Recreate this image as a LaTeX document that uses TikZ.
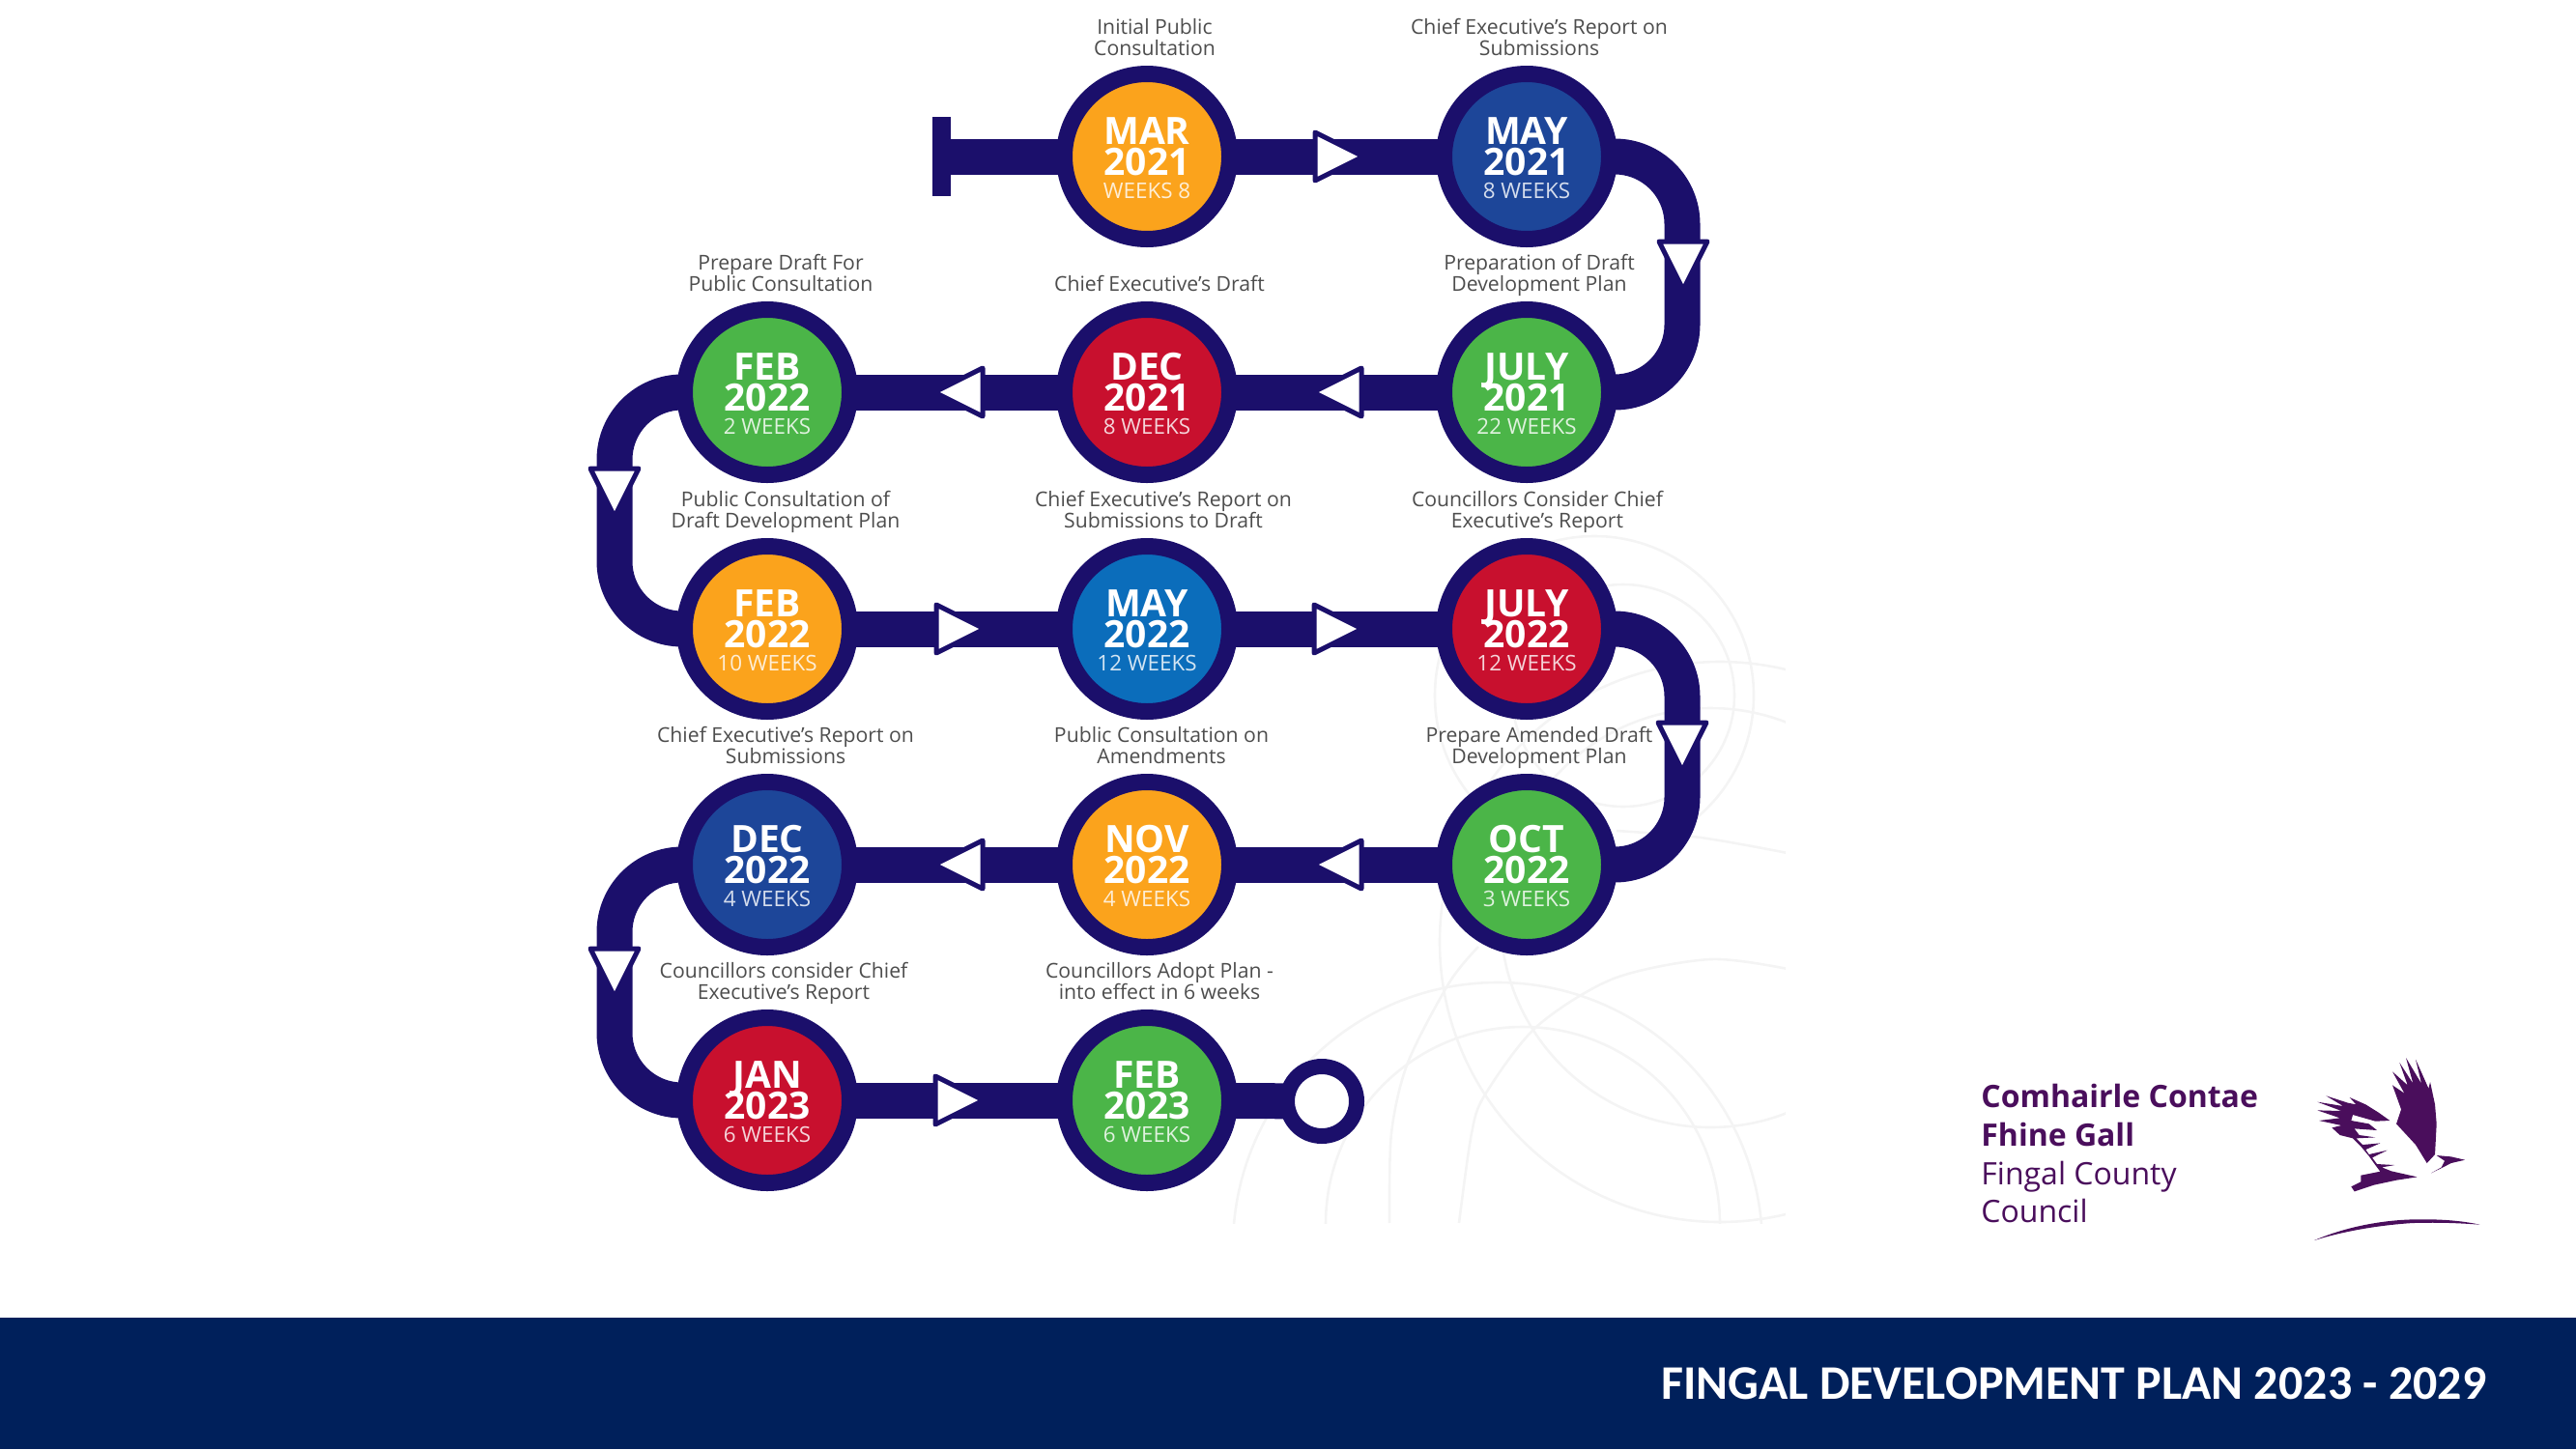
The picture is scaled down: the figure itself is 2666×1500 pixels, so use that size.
\documentclass[tikz,border=0pt]{standalone}
\usepackage{fontspec}
\setmainfont{Open Sans}
\newfontfamily\bannerfont{Carlito}
\usetikzlibrary{backgrounds}
\definecolor{pipenavy}{HTML}{1B0F6B}
\definecolor{bannernavy}{HTML}{00205B}
\definecolor{stoporange}{HTML}{FBA31C}
\definecolor{stopdarkblue}{HTML}{1D4699}
\definecolor{stopmidblue}{HTML}{0B6DBB}
\definecolor{stopred}{HTML}{C8102E}
\definecolor{stopgreen}{HTML}{4BB548}
\definecolor{logopurple}{HTML}{4A0E5C}
\definecolor{markgrey}{HTML}{F4F4F4}
\definecolor{labelgrey}{HTML}{4D4D4D}
\setlength{\lineskiplimit}{-100pt}
\newcommand{\monthfont}{\bfseries\fontsize{19.5}{16.5}\selectfont}
\newcommand{\weekfont}{\mdseries\fontsize{11.2}{13}\selectfont}
\tikzset{
  stopnode/.style={circle,draw=pipenavy,line width=8.5pt,minimum size=85.5pt,inner sep=0pt,align=center,text=white,font=\monthfont},
  stoplabel/.style={anchor=base,align=center,inner sep=0pt,text=labelgrey,font=\fontsize{10.6}{10.7}\selectfont},
  pipeline/.style={draw=pipenavy,line width=18.5pt},
  flowmark/.style={fill=white,draw=pipenavy,line width=2.5pt,line join=round},
  watermark/.style={draw=markgrey,line width=1.3pt},
  logotext/.style={anchor=base west,inner sep=0pt,text=logopurple},
}
\begin{document}
\begin{tikzpicture}[x=.5pt,y=-.5pt]
  \useasboundingbox (0,0) rectangle (2666,1500);
  \fill[bannernavy] (0,1364) rectangle (2666,1500);
  \node[anchor=base east,inner sep=0pt,text=white,font=\bannerfont\bfseries\fontsize{25}{30}\selectfont] (bannertext) at (2574,1448) {FINGAL DEVELOPMENT PLAN 2023 - 2029};
    \foreach \xpos/\ypos/\mycolor/\monthline/\yearline/\weekline/\labelx/\labeltext[count=\nn] in {%
        1187/162/stoporange/MAR/2021/WEEKS 8/1195/{Initial Public\\Consultation},
        1580/162/stopdarkblue/MAY/2021/8 WEEKS/1593/{Chief Executive’s Report on\\Submissions},
        1580/406/stopgreen/JULY/2021/22 WEEKS/1593/{Preparation of Draft\\Development Plan},
        1187/406/stopred/DEC/2021/8 WEEKS/1200/{Chief Executive’s Draft},
        794/406/stopgreen/FEB/2022/2 WEEKS/808/{Prepare Draft For\\Public Consultation},
        794/651/stoporange/FEB/2022/10 WEEKS/813/{Public Consultation of\\Draft Development Plan},
        1187/651/stopmidblue/MAY/2022/12 WEEKS/1204/{Chief Executive’s Report on\\Submissions to Draft},
        1580/651/stopred/JULY/2022/12 WEEKS/1591/{Councillors Consider Chief\\Executive’s Report},
        1580/895/stopgreen/OCT/2022/3 WEEKS/1593/{Prepare Amended Draft\\Development Plan},
        1187/895/stoporange/NOV/2022/4 WEEKS/1202/{Public Consultation on\\Amendments},
        794/895/stopdarkblue/DEC/2022/4 WEEKS/813/{Chief Executive’s Report on\\Submissions},
        794/1139/stopred/JAN/2023/6 WEEKS/811/{Councillors consider Chief\\Executive’s Report},
        1187/1139/stopgreen/FEB/2023/6 WEEKS/1200/{Councillors Adopt Plan -\\into effect in 6 weeks}%
    }{%
        \node[stopnode,fill=\mycolor] (stop-\nn) at (\xpos,\ypos) {\rule{0pt}{15.5pt}\monthline\\[-0.5pt]\yearline\\[-4.5pt]{\weekfont\textcolor{white!82!\mycolor}{\weekline}}};
        \node[stoplabel] (label-\nn) at (\labelx,\ypos-105) {\labeltext};
    }
  \node[fill=pipenavy,minimum width=9.5pt,minimum height=41pt,inner sep=0pt] (startbar) at (974.5,162) {};
  \node[circle,draw=pipenavy,fill=white,line width=8pt,minimum size=36pt,inner sep=0pt] (endring) at (1368,1140) {};
  \coordinate (turn-1) at (1741,162);
  \coordinate (turn-2) at (1741,406);
  \coordinate (turn-3) at (636,406);
  \coordinate (turn-4) at (636,651);
  \coordinate (turn-5) at (1741,651);
  \coordinate (turn-6) at (1741,895);
  \coordinate (turn-7) at (636,895);
  \coordinate (turn-8) at (636,1139);
  \begin{scope}[on background layer]
    % faint rings behind the lower right
    \begin{scope}
      \clip (1275,550) rectangle (1848,1266);
      \draw[watermark] (1550,1291) circle (274);
      \draw[watermark] (1576,1267) circle (204);
      \draw[watermark] (1770,950) circle (217);
      \draw[watermark] (1780,975) circle (290);
      \draw[watermark] (1650,720) circle (165);
      \draw[watermark] (1680,720) circle (115);
      \draw[watermark] plot[smooth] coordinates {(1438,1266) (1440,1173) (1457,1100) (1500,1017) (1530,980)};
      \draw[watermark] plot[smooth] coordinates {(1510,1266) (1523,1173) (1537,1133) (1590,1063) (1670,1013) (1770,993) (1850,1003)};
      \draw[watermark] plot[smooth] coordinates {(1673,860) (1760,867) (1850,883)};
    \end{scope}
    \draw[pipeline] (startbar.center) -- (stop-1.center);
    \foreach \fromstop/\tostop in {1/2,3/4,4/5,6/7,7/8,9/10,10/11,12/13}{%
        \draw[pipeline] (stop-\fromstop.center) -- (stop-\tostop.center);
    }
    \draw[pipeline] (stop-13.center) -- (endring.center);
    \foreach \fromstop/\firstturn/\secondturn/\tostop in {2/1/2/3,5/3/4/6,8/5/6/9,11/7/8/12}{%
        \draw[pipeline,rounded corners=35pt] (stop-\fromstop.center) -- (turn-\firstturn) -- (turn-\secondturn) -- (stop-\tostop.center);
    }
  \end{scope}
    \foreach \xpos/\ypos/\turnangle in {%
        1361/162/0,1742/250/-90,1409/406/180,1017/406/180,636/485/-90,
        969/651/0,1360/651/0,1741/748/-90,1409/895/180,1017/895/180,
        636/982/-90,968/1139/0%
    }{%
        \draw[flowmark,shift={(\xpos,\ypos)},rotate=\turnangle] (0,-25) -- (50,0) -- (0,25) -- cycle;
    }
  % logo
  \node[logotext,font=\bfseries\fontsize{16}{20}\selectfont] (logo-1) at (2050,1146) {Comhairle Contae};
  \node[logotext,font=\bfseries\fontsize{16}{20}\selectfont] (logo-2) at (2050,1186) {Fhine Gall};
  \node[logotext,font=\fontsize{16}{20}\selectfont] (logo-3) at (2050,1226) {Fingal County};
  \node[logotext,font=\fontsize{16}{20}\selectfont] (logo-4) at (2050,1265) {Council};
  \begin{scope}[shift={(2380,1080)},x=.1667pt,y=-.1667pt]
    \fill[logopurple] (395,372) -- (360,315) -- (300,250) -- (315,205) -- (288,130) -- (325,155) -- (288,88) -- (335,130) -- (310,60) -- (352,125) -- (330,45) -- (378,125) -- (360,50) -- (400,140) -- (405,120) -- (420,190) -- (425,250) -- (420,345) -- cycle;
    \fill[logopurple] (155,168) -- (205,190) -- (245,215) -- (280,240) -- (235,242) -- (165,222) -- (160,240) -- (215,250) -- (240,270) -- (170,265) -- (185,285) -- (235,292) -- (175,295) -- (195,315) -- (250,310) -- (205,330) -- (215,345) -- (272,332) -- (225,355) -- (240,375) -- (295,378) -- (255,385) -- (285,397) -- (365,415) -- (300,425) -- (230,440) -- (170,460) -- (160,445) -- (190,430) -- (190,410) -- (250,398) -- (235,378) -- (215,350) -- (190,320) -- (165,295) -- (125,285) -- (100,262) -- (130,255) -- (60,240) -- (125,232) -- (55,208) -- (130,210) -- (55,182) -- (135,195) -- (82,163) -- (150,185) -- (175,190) -- cycle;
    \fill[logopurple] (425,348) -- (470,352) -- (513,362) -- (470,372) -- (445,385) -- (408,403) -- (440,385) -- (450,365) -- cycle;
    \fill[logopurple] (45,612) .. controls (130,575) and (240,550) .. (350,547) .. controls (430,545) and (500,550) .. (560,563) .. controls (480,557) and (420,556) .. (350,558) .. controls (240,565) and (130,585) .. (45,612) -- cycle;
  \end{scope}
\end{tikzpicture}
\end{document}
